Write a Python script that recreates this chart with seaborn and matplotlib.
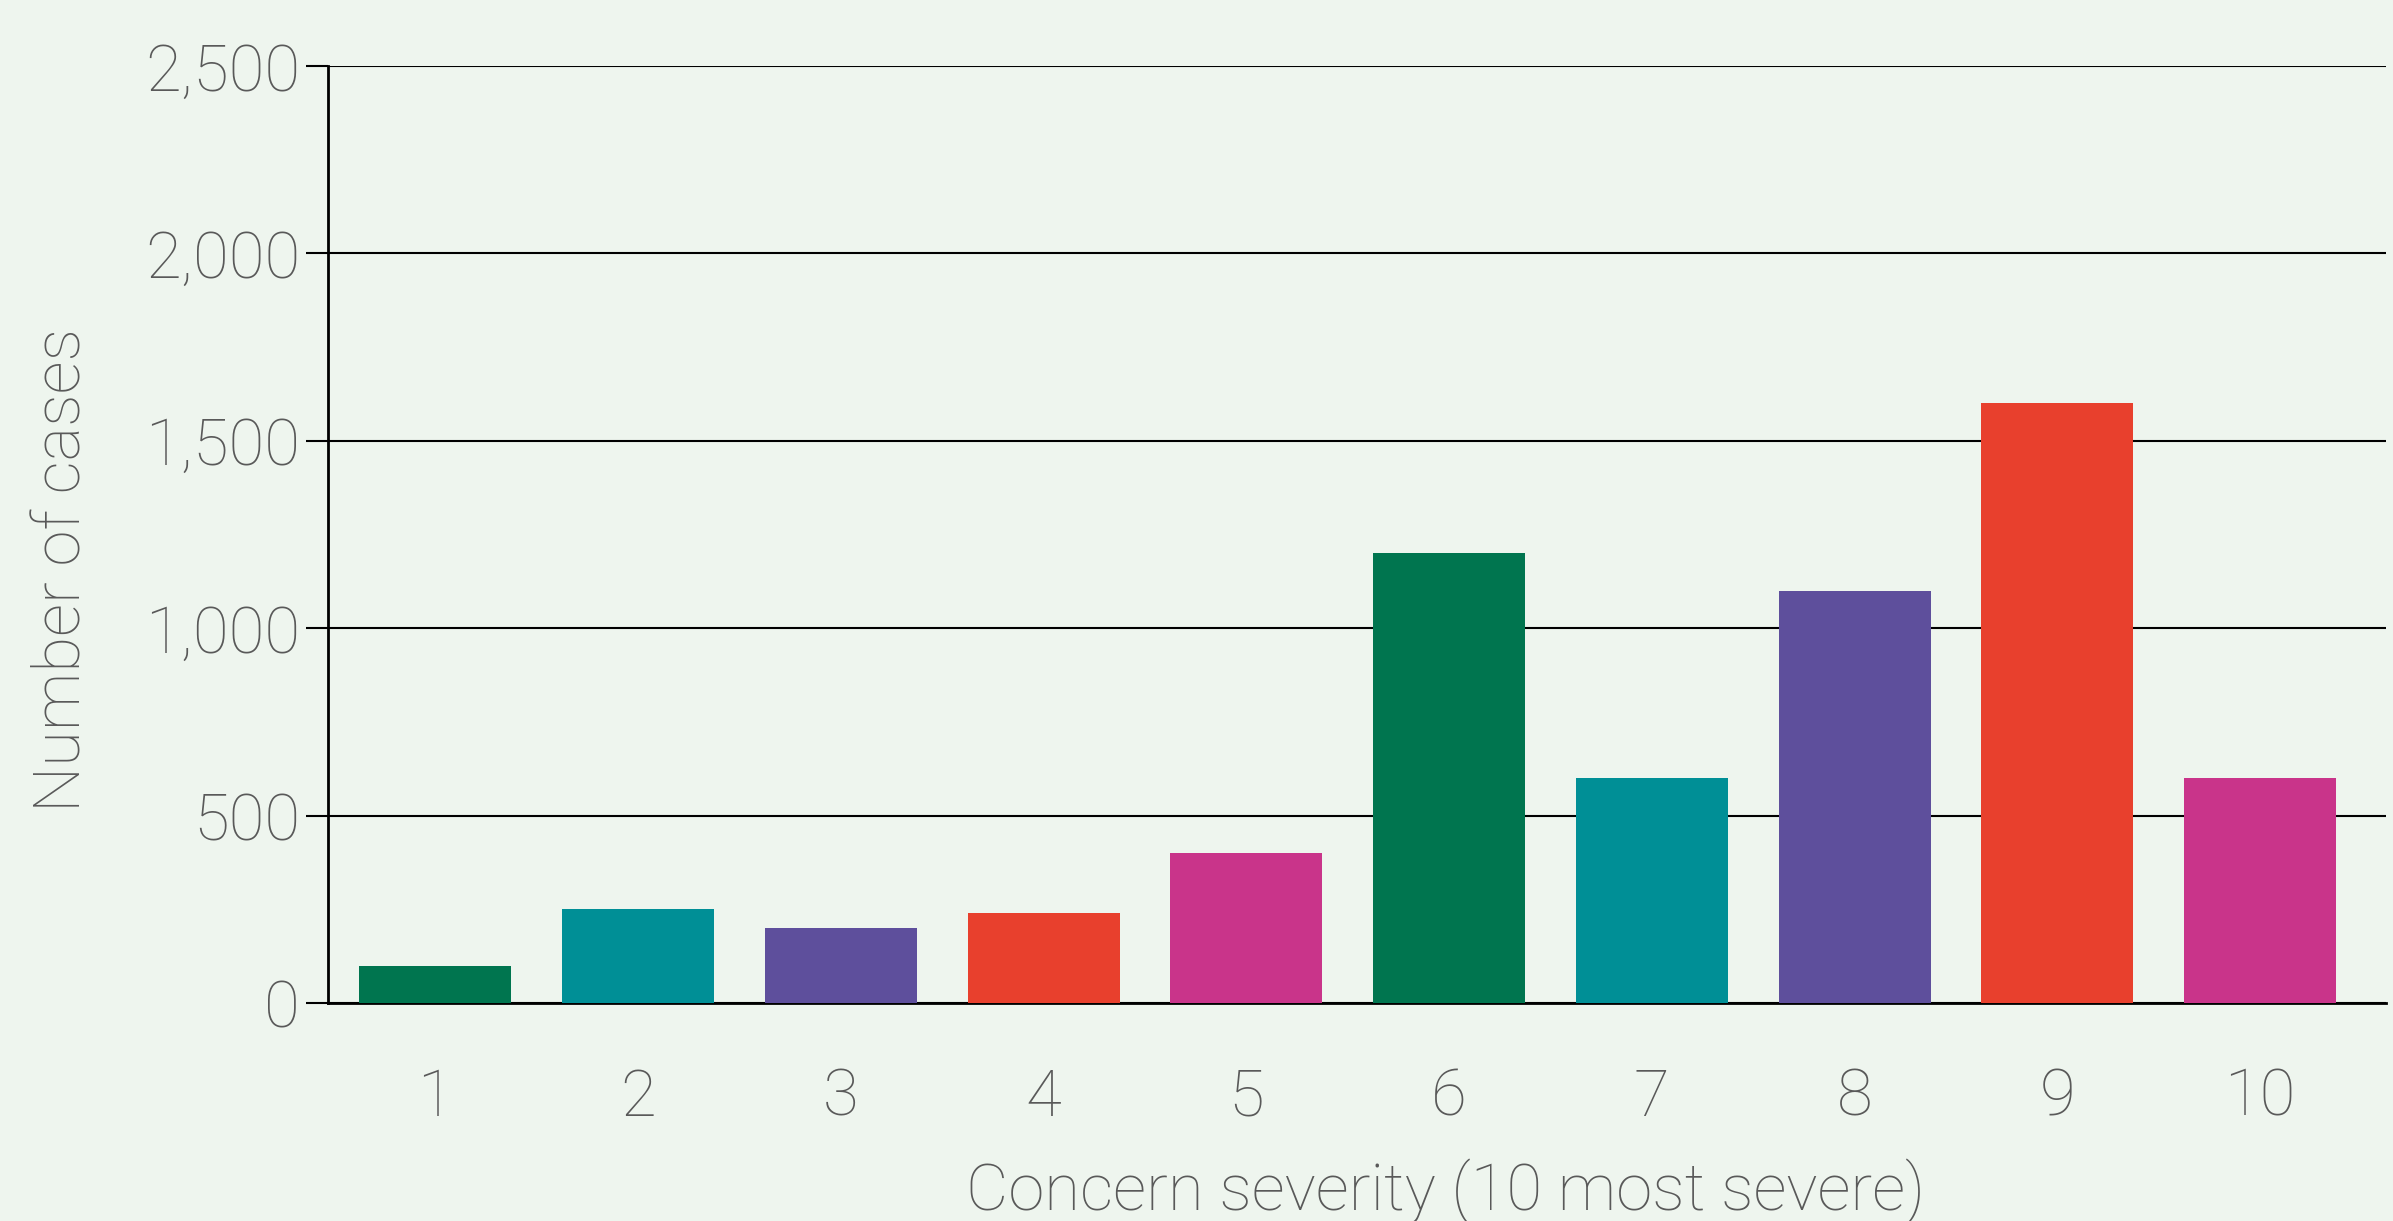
import seaborn as sns
import matplotlib.pyplot as plt
import pandas as pd
from matplotlib.ticker import StrMethodFormatter

severity = ["1", "2", "3", "4", "5", "6", "7", "8", "9", "10"]
cases = [100, 250, 200, 240, 400, 1200, 600, 1100, 1600, 600]
bar_colors = ["#00754F", "#008F96", "#5E4F9C", "#E8402D", "#C9348A",
              "#00754F", "#008F96", "#5E4F9C", "#E8402D", "#C9348A"]
y_ticks = [0, 500, 1000, 1500, 2000, 2500]

bg = "#EEF5EE"
txt = "#595959"

sns.set_style("white")
plt.rcParams['font.family'] = ['Roboto', 'DejaVu Sans']
plt.rcParams['font.weight'] = 'light'
plt.rcParams['axes.labelweight'] = 'light'

df = pd.DataFrame({"Severity": severity, "Cases": cases})

fig = plt.figure(figsize=(23.93, 12.21), dpi=100, facecolor=bg)
ax = fig.add_axes([0.137, 0.1785, 0.86, 0.7675])
ax.set_facecolor(bg)

sns.barplot(data=df, x="Severity", y="Cases", hue="Severity", palette=bar_colors,
            legend=False, width=0.75, saturation=1, linewidth=0, ax=ax, zorder=3)

ax.set_ylim(0, 2500)
ax.set_xlim(-0.53, 9.62)
ax.set_yticks(y_ticks)
ax.yaxis.set_major_formatter(StrMethodFormatter("{x:,.0f}"))
ax.yaxis.grid(True, color="black", linewidth=1.5, zorder=1)
ax.set_axisbelow(True)

for side in ["top", "right"]:
    ax.spines[side].set_visible(False)
for side in ["left", "bottom"]:
    ax.spines[side].set_color("black")
    ax.spines[side].set_linewidth(2)

ax.tick_params(axis="y", length=16, width=1.5, color="black", labelsize=47,
               labelcolor=txt, pad=4, left=True)
ax.tick_params(axis="x", length=0, labelsize=47, labelcolor=txt, pad=46)

ax.set_xlabel("Concern severity (10 most severe)", fontsize=47, color=txt)
ax.set_ylabel("Number of cases", fontsize=47, color=txt)
ax.xaxis.set_label_coords(0.543, -0.166)
ax.yaxis.set_label_coords(-0.114, 0.462)

plt.savefig("out.png", dpi=100, facecolor=bg)
